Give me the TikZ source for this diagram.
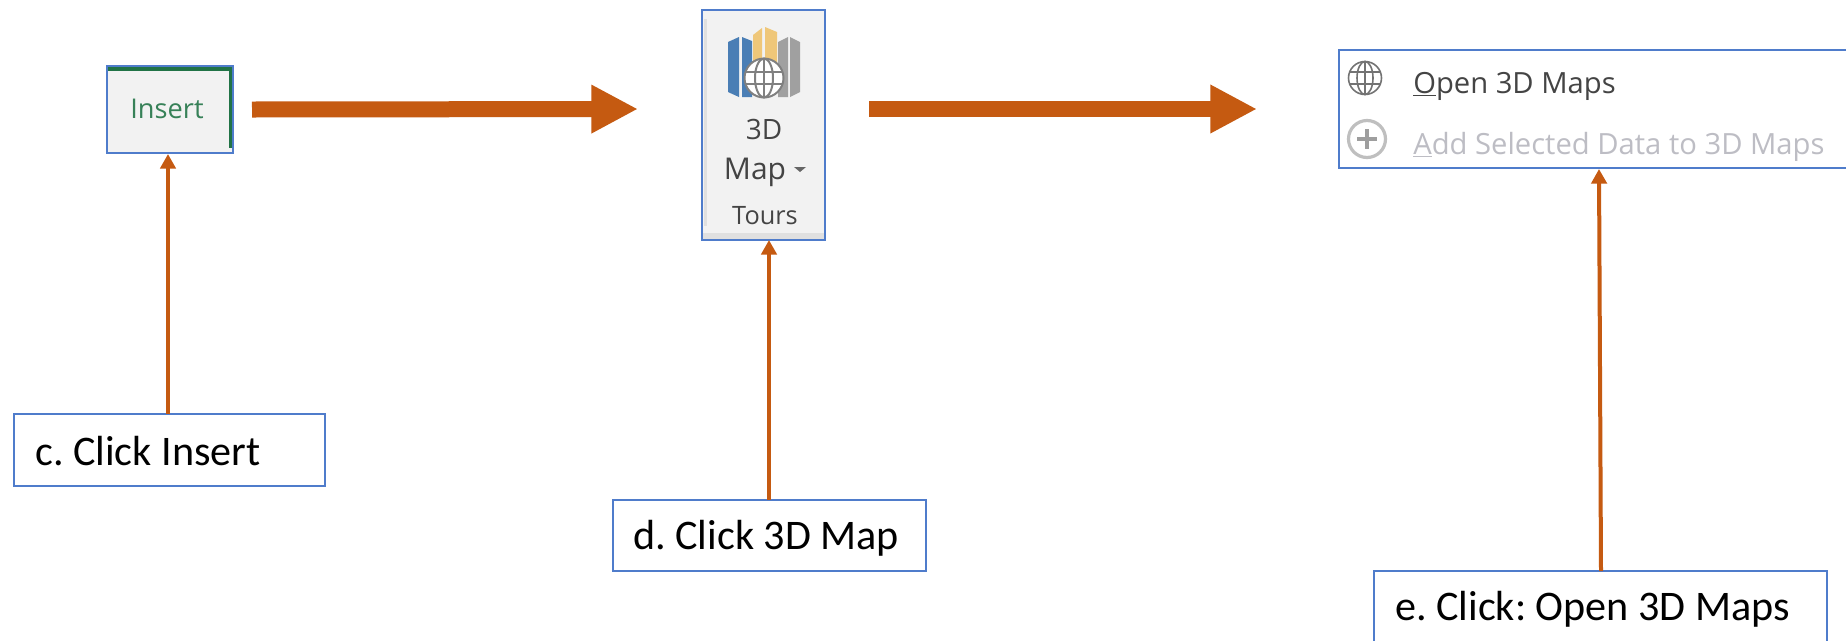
\documentclass[tikz,border=0pt]{standalone}
\usepackage{fontspec}
\setmainfont{Carlito}
\newfontfamily\uifont{Open Sans}
\usetikzlibrary{arrows.meta,calc}
\frenchspacing
\definecolor{boxblue}{HTML}{4F7CCB}
\definecolor{arrowor}{HTML}{C55A11}
\definecolor{xlgreen}{HTML}{217346}
\definecolor{ribbon}{HTML}{F2F2F2}
\definecolor{uitext}{HTML}{444444}
\definecolor{uidim}{HTML}{BDBDC4}
\definecolor{mapblue}{HTML}{4A7EB5}
\definecolor{mapyellow}{HTML}{EFC779}
\definecolor{mapgrey}{HTML}{A0A0A0}
\tikzset{
  x=0.75pt,y=-0.75pt,
  pxbox/.style={draw=boxblue,line width=1.1pt,inner sep=0pt,outer sep=0pt,anchor=north west},
  labelbox/.style={pxbox,fill=white},
  labeltext/.style={font=\fontsize{31.6}{31.6}\selectfont,anchor=base west,inner sep=0pt,text=black},
  uilabel/.style={font=\uifont\fontsize{21.9}{21.9}\selectfont,anchor=base west,inner sep=0pt},
  bigarrow/.style={arrowor,line width=12pt,-{Triangle[length=35pt,width=34pt]}},
  thinarrow/.style={arrowor,line width=3pt,-{Triangle[length=11pt,width=11.5pt]}},
}
\begin{document}
\begin{tikzpicture}
\path[use as bounding box] (0,0) rectangle (1846,640);
\clip (0,0) rectangle (1846,640);
\fill[white] (0,0) rectangle (1846,640);

% Insert tab
\node[pxbox,fill=ribbon,minimum width=94.5pt,minimum height=65.25pt] (insbox) at (107,66) {};
\fill[xlgreen] (107,67) rectangle (233,71);
\fill[xlgreen] (229,67) rectangle (233,148);
\draw[boxblue,line width=1.1pt] (insbox.north west) rectangle (insbox.south east);
\node[font=\uifont\fontsize{20.4}{20.4}\selectfont,text=xlgreen!90!white,inner sep=0pt] (instext) at (167,109) {Insert};

% 3D Map ribbon
\node[pxbox,fill=ribbon,minimum width=92.25pt,minimum height=172.5pt] (mapbox) at (702,10) {};
\fill[black!12] (704,19) rectangle (707,226);
\fill[black!12] (703,233) rectangle (824,239);
\draw[boxblue,line width=1.1pt] (mapbox.north west) rectangle (mapbox.south east);
\fill[mapblue] (728,42) -- (739,37) -- (739,97) -- (728,92) -- cycle;
\fill[mapblue] (742,37) -- (752,41) -- (752,97) -- (742,97) -- cycle;
\fill[mapyellow] (753,35) -- (762,28) -- (762,70) -- (753,70) -- cycle;
\fill[mapyellow] (765,27) -- (777,32) -- (777,70) -- (765,70) -- cycle;
\fill[mapgrey] (778,42) -- (788,37) -- (788,97) -- (778,97) -- cycle;
\fill[mapgrey] (790,37) -- (800,42) -- (800,92) -- (790,97) -- cycle;
\begin{scope}[black!50,line width=1.5pt]
\filldraw[fill=white] (764,78) circle[radius=19.5];
\draw (764,78) ellipse[x radius=9,y radius=19.5];
\draw (745,72) -- (783,72) (745,84) -- (783,84) (764,58.5) -- (764,97.5);
\end{scope}
\node[font=\uifont\fontsize{21}{21}\selectfont,text=uitext,inner sep=0pt] (t3d) at (764,129) {3D};
\node[font=\uifont\fontsize{22.5}{22.5}\selectfont,text=uitext,inner sep=0pt,anchor=base] (tmap) at (755,179) {Map};
\fill[black!60] (794,167) -- (806,167) -- (800,172) -- cycle;
\node[font=\uifont\fontsize{19}{19}\selectfont,text=uitext,inner sep=0pt,anchor=base] (ttours) at (765,224) {Tours};

% Menu
\node[pxbox,fill=white,minimum width=450pt,minimum height=88.5pt] (menubox) at (1339,50) {};
\begin{scope}[black!55,line width=1.2pt]
\draw (1365,78) circle[radius=16.5];
\draw (1365,78) ellipse[x radius=8,y radius=16.5];
\draw (1349,72) -- (1381,72) (1349,84) -- (1381,84) (1365,61.5) -- (1365,94.5);
\end{scope}
\draw[black!25,line width=2.4pt] (1367,139) circle[radius=18.5];
\draw[black!38,line width=2.6pt] (1367,129) -- (1367,149) (1357,139) -- (1377,139);
\node[uilabel,text=uitext] (mopen) at (1413,93) {\underline{O}pen 3D Maps};
\node[uilabel,text=uidim] (madd) at (1413,154) {\underline{A}dd Selected Data to 3D Maps};

% Label boxes
\node[labelbox,minimum width=233.25pt,minimum height=54pt] (cbox) at (14,414) {};
\node[labeltext] (ctext) at (35,465) {c. Click Insert};
\node[labelbox,minimum width=234.75pt,minimum height=53.25pt] (dbox) at (613,500) {};
\node[labeltext] (dtext) at (633,549) {d. Click 3D Map};
\node[labelbox,minimum width=339.75pt,minimum height=70pt] (ebox) at (1374,571) {};
\node[labeltext] (etext) at (1395,620) {e. Click: Open 3D Maps};

% Connectors
\coordinate (b1s) at ($(insbox.east)+(19,0)$);
\coordinate (b1e) at (638,109);
\coordinate (b2s) at (869,109);
\coordinate (b2e) at (1257,109);
\draw[bigarrow] (b1s) -- (b1e);
\draw[bigarrow] (b2s) -- (b2e);
\draw[thinarrow] (cbox.north -| 168,0) -- (168,154);
\draw[thinarrow] (dbox.north -| 769,0) -- (769,240);
\draw[thinarrow] (ebox.north -| 1601,0) -- (1599,169);
\end{tikzpicture}
\end{document}
